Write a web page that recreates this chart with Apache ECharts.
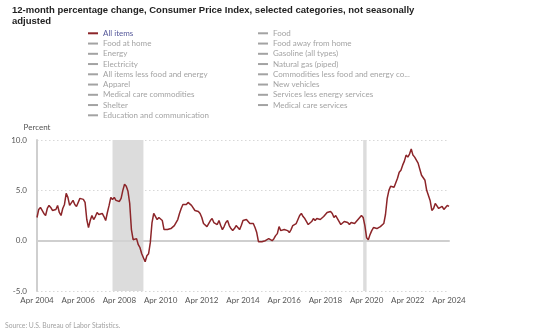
<!DOCTYPE html>
<html>
<head>
<meta charset="utf-8">
<script src="https://cdn.jsdelivr.net/npm/echarts@6/dist/echarts.min.js"></script>
<style>
  html, body { margin: 0; padding: 0; background: #fff; }
  #chart { width: 539px; height: 335px; }
</style>
</head>
<body>
<div id="chart"></div>
<script>
// Monthly categories, Apr 2004 through Apr 2024
const monthNames = ['Jan','Feb','Mar','Apr','May','Jun','Jul','Aug','Sep','Oct','Nov','Dec'];
const months = [];
for (let y = 2004; y <= 2024; y++) {
  for (let m = 0; m < 12; m++) {
    if (y === 2004 && m < 3) continue;
    if (y === 2024 && m > 3) continue;
    months.push(monthNames[m] + ' ' + y);
  }
}

// 12-month percent change, CPI all items (not seasonally adjusted)
const allItems = [
  /* 2004 Apr-Dec */ 2.3, 3.1, 3.3, 3.0, 2.7, 2.5, 3.2, 3.5, 3.3,
  /* 2005 */ 3.0, 3.0, 3.1, 3.5, 2.8, 2.5, 3.2, 3.6, 4.7, 4.3, 3.5, 3.4,
  /* 2006 */ 4.0, 3.6, 3.4, 3.5, 4.2, 4.3, 4.1, 3.8, 2.1, 1.3, 2.0, 2.5,
  /* 2007 */ 2.1, 2.4, 2.8, 2.6, 2.7, 2.7, 2.4, 2.0, 2.8, 3.5, 4.3, 4.1,
  /* 2008 */ 4.3, 4.0, 4.0, 3.9, 4.2, 5.0, 5.6, 5.4, 4.9, 3.7, 1.1, 0.1,
  /* 2009 */ 0.0, 0.2, -0.4, -0.7, -1.3, -1.4, -2.1, -1.5, -1.3, -0.2, 1.8, 2.7,
  /* 2010 */ 2.6, 2.1, 2.3, 2.2, 2.0, 1.1, 1.2, 1.1, 1.1, 1.2, 1.1, 1.5,
  /* 2011 */ 1.6, 2.1, 2.7, 3.2, 3.6, 3.6, 3.6, 3.8, 3.9, 3.5, 3.4, 3.0,
  /* 2012 */ 2.9, 2.9, 2.7, 2.3, 1.7, 1.7, 1.4, 1.7, 2.0, 2.2, 1.8, 1.7,
  /* 2013 */ 1.6, 2.0, 1.5, 1.1, 1.4, 1.8, 2.0, 1.5, 1.2, 1.0, 1.2, 1.5,
  /* 2014 */ 1.6, 1.1, 1.5, 2.0, 2.1, 2.1, 2.0, 1.7, 1.7, 1.7, 1.3, 0.8,
  /* 2015 */ -0.1, 0.0, -0.1, -0.2, 0.0, 0.1, 0.2, 0.2, 0.0, 0.2, 0.5, 0.7,
  /* 2016 */ 1.4, 1.0, 0.9, 1.1, 1.0, 1.0, 0.8, 1.1, 1.5, 1.6, 1.7, 2.1,
  /* 2017 */ 2.5, 2.7, 2.4, 2.2, 1.9, 1.6, 1.7, 1.9, 2.2, 2.0, 2.2, 2.1,
  /* 2018 */ 2.1, 2.2, 2.4, 2.5, 2.8, 2.9, 2.9, 2.7, 2.3, 2.5, 2.2, 1.9,
  /* 2019 */ 1.6, 1.5, 1.9, 2.0, 1.8, 1.6, 1.8, 1.7, 1.7, 1.8, 2.1, 2.3,
  /* 2020 */ 2.5, 2.3, 1.5, 0.3, 0.1, 0.6, 1.0, 1.3, 1.4, 1.2, 1.2, 1.4,
  /* 2021 */ 1.4, 1.7, 2.6, 4.2, 5.0, 5.4, 5.4, 5.3, 5.4, 6.2, 6.8, 7.0,
  /* 2022 */ 7.5, 7.9, 8.5, 8.3, 8.6, 9.1, 8.5, 8.3, 8.2, 7.7, 7.1, 6.5,
  /* 2023 */ 6.4, 6.0, 5.0, 4.9, 4.0, 3.0, 3.2, 3.7, 3.7, 3.2, 3.1, 3.4,
  /* 2024 Jan-Apr */ 3.1, 3.2, 3.5, 3.4
];

// Recession periods (shaded)
const recessions = [
  ['Dec 2007', 'Jun 2009'],
  ['Feb 2020', 'Apr 2020']
];

// Legend entries, two columns
const legendLeft = ['All items', 'Food at home', 'Energy', 'Electricity',
  'All items less food and energy', 'Apparel', 'Medical care commodities',
  'Shelter', 'Education and communication'];
const legendRight = ['Food', 'Food away from home', 'Gasoline (all types)',
  'Natural gas (piped)', 'Commodities less food and energy commodities',
  'New vehicles', 'Services less energy services', 'Medical care services'];

const yTicks = { min: -5, max: 10, step: 5 };

const RED = '#8c2529';
const GREY_ICON = '#a3a3a3';
const FONT = 'Lato, "Liberation Sans", sans-serif';

const otherSeries = legendLeft.concat(legendRight)
  .filter(n => n !== 'All items')
  .map(n => ({ name: n, type: 'line', data: [], color: GREY_ICON, symbol: 'none' }));

const legendBase = {
  orient: 'vertical',
  icon: 'rect',
  itemWidth: 10,
  itemHeight: 2,
  itemGap: 0.25,
  selectedMode: false,
  padding: 0,
  textStyle: { fontFamily: FONT, fontSize: 8, lineHeight: 10, color: '#a3a3a3' }
};

const chart = echarts.init(document.getElementById('chart'), null, { renderer: 'canvas' });
chart.setOption({
  animation: false,
  title: [
    {
      text: '12-month percentage change, Consumer Price Index, selected categories, not seasonally\nadjusted',
      left: 12, top: 5, padding: 0,
      textStyle: { fontFamily: '"Liberation Sans", Arial, sans-serif', fontSize: 9.5, fontWeight: 'bold', color: '#222', lineHeight: 11 }
    },
    {
      text: 'Source: U.S. Bureau of Labor Statistics.',
      left: 5, top: 322, padding: 0,
      textStyle: { fontFamily: FONT, fontSize: 6.8, fontWeight: 'normal', color: '#a3a3a3' }
    }
  ],
  legend: [
    Object.assign({}, legendBase, {
      left: 88, top: 28.3,
      data: legendLeft.map(n => n === 'All items'
        ? { name: n, textStyle: { color: '#55589a' } }
        : { name: n })
    }),
    Object.assign({}, legendBase, {
      left: 258, top: 28.3,
      textStyle: Object.assign({}, legendBase.textStyle, { width: 142, overflow: 'truncate', ellipsis: '...' }),
      data: legendRight
    })
  ],
  grid: { left: 37, right: 90, top: 140, bottom: 44, containLabel: false },
  xAxis: {
    type: 'category',
    data: months,
    boundaryGap: false,
    axisLine: { lineStyle: { color: '#cfcfcf', width: 2 } },
    axisTick: { show: false },
    axisLabel: {
      interval: (i) => i % 24 === 0,
      color: '#555', fontFamily: FONT, fontSize: 8, margin: 5
    },
    splitLine: { show: false }
  },
  yAxis: {
    type: 'value',
    min: yTicks.min, max: yTicks.max, interval: yTicks.step,
    name: 'Percent',
    nameLocation: 'end',
    nameGap: 9,
    nameTextStyle: { color: '#555', fontFamily: FONT, fontSize: 8 },
    axisLine: { show: true, lineStyle: { color: '#cfcfcf', width: 2 } },
    axisTick: { show: false },
    axisLabel: {
      formatter: v => v.toFixed(1),
      color: '#555', fontFamily: FONT, fontSize: 8, margin: 10
    },
    splitLine: { show: true, lineStyle: { color: '#d8d8d8', type: [1.5, 2.5], width: 1.2 } }
  },
  series: [
    {
      name: 'All items',
      type: 'line',
      data: allItems,
      color: RED,
      symbol: 'none',
      lineStyle: { color: RED, width: 1.5 },
      z: 5,
      markArea: {
        silent: true,
        itemStyle: { color: '#dcdcdc' },
        data: recessions.map(r => [{ xAxis: r[0] }, { xAxis: r[1] }])
      },
      markLine: {
        silent: true,
        symbol: 'none',
        label: { show: false },
        lineStyle: { color: '#cfcfcf', type: 'solid', width: 1.5 },
        data: [{ yAxis: 0 }]
      }
    }
  ].concat(otherSeries)
});
</script>
</body>
</html>
